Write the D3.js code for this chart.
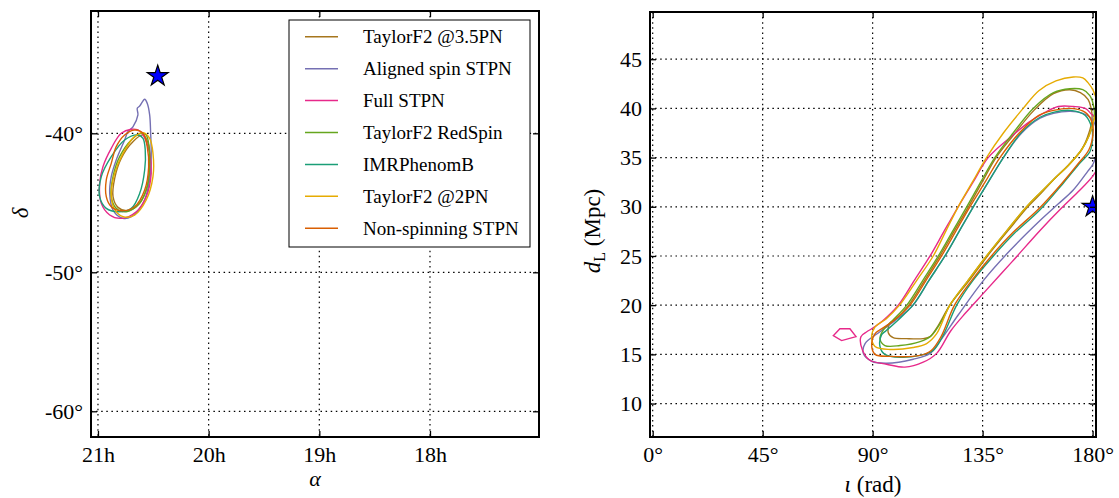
<!DOCTYPE html>
<html><head><meta charset="utf-8">
<script src="https://cdn.jsdelivr.net/npm/d3@7"></script>
<style>body{margin:0;background:#fff} svg{display:block}</style>
</head><body><svg id="c" width="1119" height="498"></svg>
<script>
// ---------------- DATA ----------------
const seriesNames = ["TaylorF2 @3.5PN","Aligned spin STPN","Full STPN","TaylorF2 RedSpin","IMRPhenomB","TaylorF2 @2PN","Non-spinning STPN"];

// Sky-location contours: [right ascension (h), declination (deg)]
const skyTaylorF2_35PN = [[20.593,-40.12],[20.684,-40.6],[20.79,-41.8],[20.849,-43.24],[20.864,-44.56],[20.819,-45.33],[20.729,-45.57],[20.623,-45.04],[20.555,-43.84],[20.53,-42.28],[20.542,-40.84]];
const skyAlignedSTPN = [[20.578,-37.55],[20.623,-38.04],[20.645,-38.2],[20.639,-38.68],[20.684,-39.53],[20.729,-39.88],[20.759,-40.48],[20.835,-41.92],[20.88,-43.12],[20.894,-44.32],[20.864,-45.52],[20.774,-46.12],[20.699,-46.0],[20.593,-45.04],[20.533,-43.36],[20.519,-41.68],[20.524,-40.0],[20.533,-38.68],[20.555,-37.84]];
const skyFullSTPN = [[20.699,-39.71],[20.79,-40.0],[20.88,-41.08],[20.955,-42.40],[20.985,-43.6],[20.97,-45.04],[20.894,-45.88],[20.79,-46.12],[20.654,-45.64],[20.564,-44.56],[20.519,-42.88],[20.533,-41.44],[20.593,-40.12],[20.639,-39.76]];
const skyRedSpin = [[20.609,-40.0],[20.699,-40.48],[20.804,-41.68],[20.864,-43.12],[20.88,-44.56],[20.835,-45.4],[20.744,-45.64],[20.639,-45.16],[20.564,-44.08],[20.533,-42.4],[20.539,-40.96],[20.564,-40.12]];
const skyIMRPhenomB = [[20.639,-40.12],[20.759,-40.48],[20.88,-41.68],[20.97,-43.12],[20.985,-44.56],[20.925,-45.4],[20.819,-45.64],[20.699,-45.4],[20.623,-44.32],[20.578,-42.64],[20.573,-41.2],[20.593,-40.36]];
const skyTaylorF2_2PN = [[20.593,-39.95],[20.669,-40.24],[20.774,-41.44],[20.849,-42.88],[20.88,-44.32],[20.855,-45.4],[20.774,-46.0],[20.669,-45.88],[20.564,-44.8],[20.503,-43.12],[20.503,-41.44],[20.533,-40.36]];
const skyNonSpinSTPN = [[20.669,-39.76],[20.759,-40.12],[20.835,-40.96],[20.88,-42.16],[20.925,-43.36],[20.925,-44.56],[20.88,-45.28],[20.79,-45.57],[20.669,-45.28],[20.578,-44.08],[20.542,-42.4],[20.555,-40.96],[20.593,-40.0]];
const skyInjection = [20.46, -35.88];

// Inclination / distance contours: [iota (deg), d_L (Mpc)]
const incTaylorF2_35PN = [[170.7,41.9],[164,41.5],[156,39.8],[148,37.4],[140.5,35],[134.8,32.5],[129.2,30],[123.3,27.5],[117.5,25],[111.2,22.5],[104.8,20],[99.5,18.6],[97.1,18.2],[96.4,17.2],[98.4,16.7],[103.9,16.6],[110.7,16.6],[113.5,16.8],[117,18],[121.6,20],[129.5,22.5],[137,25],[145.5,27.6],[153.5,30],[159,31.4],[165,33],[170,34.2],[175.5,35.8],[178.5,37.5],[179.8,39],[179.4,40],[178.2,40.9],[175,41.6]];
const incAlignedSTPN = [[171,39.7],[164,39.5],[158.5,39],[151,37.5],[143.5,35],[137.3,32.5],[131.2,30],[125.4,27.5],[119.6,25],[113,22.5],[106.5,20],[99,18.4],[93,17.3],[86.9,16.1],[86.2,15.1],[89.6,14.3],[95.7,14.1],[106.6,14.5],[113.5,15.1],[118,16.5],[125,19],[135.3,22.5],[146,25.5],[158.5,28.6],[166,30.3],[172.1,31.7],[178,33.6],[180.3,34.4],[182,36],[181.5,38],[179.5,39],[176,39.5]];
const incFullSTPN = [[172.1,40.2],[166,40.2],[160.5,39.6],[154,38.6],[147.5,37.3],[137.3,35],[131.1,32.5],[125,30],[119.2,27.5],[113.5,25],[107,22.5],[100.5,20],[94.5,18.5],[89.6,17.6],[87.6,17.3],[85.2,16.8],[85.9,15.4],[88.9,14.4],[95.7,14.0],[103.2,13.7],[110.7,14.2],[116.2,15.1],[122,17.4],[128,19.2],[135.3,21.2],[147,24.4],[158.5,27.6],[167,29.8],[174,31.5],[180.3,33.2],[183,34.5],[184,37],[182,38.8],[179.6,39.4],[177,40]];
const incFullSTPNIsland = [[73.9,16.9],[76.6,17.6],[80.7,17.6],[83.2,16.8],[77.3,16.4]];
const incRedSpin = [[170.7,42],[164,41.6],[155.7,40],[147.5,37.5],[140,35],[134.2,32.5],[128.5,30],[122.7,27.5],[116.9,25],[110.5,22.5],[104,20],[98,18.4],[94.4,17.5],[93,16.6],[95,15.9],[101.2,15.9],[109.4,16.3],[114,16.9],[118.5,18.5],[121.6,20],[129,22.5],[136.6,25],[145,27.6],[153,30],[158.5,31.4],[165,33],[170,34.2],[175.5,35.8],[178.5,37.2],[180.6,39],[180.6,40],[178.9,41.3],[176,41.9]];
const incIMRPhenomB = [[171,39.8],[163.9,39.6],[158.5,39.1],[151,37.6],[143.5,35],[137.3,32.5],[131.2,30],[125.4,27.5],[119.6,25],[113,22.5],[106.5,20],[100,18.4],[95.5,17.4],[93.7,17.0],[93,15.8],[95,15.0],[101.2,14.7],[109.4,14.9],[114.8,15.4],[119,17],[124.4,20],[131,22.5],[139.4,25],[148,27.3],[158.5,29.7],[168,32.4],[175,34.5],[178.9,35.6],[180,37],[179.6,38.1],[176.9,39.3]];
const incTaylorF2_2PN = [[172.1,43.2],[165,42.8],[158,41.8],[151.6,40],[143.5,37.5],[136.6,35],[130.8,32.5],[125,30],[119.9,27.5],[114.8,25],[108,22.5],[101,20],[95.5,18.6],[91,17.8],[89.6,16.8],[91,15.8],[97.1,15.5],[106.6,15.7],[112.1,16.1],[116.2,17.1],[121.6,20],[129,22.5],[136.6,25],[145,27.6],[153,30],[158.5,31.4],[165,33],[170,34.2],[175.5,35.8],[178.5,37.2],[180.5,38.8],[182,40.2],[180.3,41.8],[178.2,42.6],[176,43.1]];
const incNonSpinSTPN = [[171,40],[164,39.8],[158,39.3],[150,37.5],[142.1,35],[136,32.5],[129.8,30],[124,27.5],[118.2,25],[111.8,22.5],[105.3,20],[98.5,18.4],[93,17.5],[91,17.1],[89.6,16.1],[91,15.0],[97.1,14.8],[109.4,14.9],[114,15.4],[118,16.8],[123.5,20],[130.5,22.5],[138.6,25],[147.5,27.4],[158,29.8],[167.5,32.4],[174.5,34.5],[178.5,35.8],[180.2,37.5],[179.8,38.6],[177,39.6]];
const incInjection = [180, 30];

// Tick values and labels
const raTicks = [21, 20, 19, 18];
const raTickLabels = ["21h", "20h", "19h", "18h"];
const decTicks = [-40, -50, -60];
const decTickLabels = ["-40°", "-50°", "-60°"];
const iotaTicks = [0, 45, 90, 135, 180];
const iotaTickLabels = ["0°", "45°", "90°", "135°", "180°"];
const distTicks = [10, 15, 20, 25, 30, 35, 40, 45];
const distTickLabels = ["10", "15", "20", "25", "30", "35", "40", "45"];

// ---------------- STYLE ----------------
const seriesColors = ["#a6761d","#7570b3","#e7298a","#66a61e","#1b9e77","#e6ab02","#d95f02"];
const FONT = "'Liberation Serif','Times New Roman',serif";

const skySets = [skyTaylorF2_35PN, skyAlignedSTPN, skyFullSTPN, skyRedSpin, skyIMRPhenomB, skyTaylorF2_2PN, skyNonSpinSTPN];
const incSets = [incTaylorF2_35PN, incAlignedSTPN, incFullSTPN, incRedSpin, incIMRPhenomB, incTaylorF2_2PN, incNonSpinSTPN];

const svg = d3.select("#c");
const defs = svg.append("defs");

function panel(cfg) {
  const g = svg.append("g");
  const x = d3.scaleLinear().domain(cfg.xDomain).range([cfg.left, cfg.right]);
  const y = d3.scaleLinear().domain(cfg.yDomain).range([cfg.bottom, cfg.top]);
  defs.append("clipPath").attr("id", cfg.id).append("rect")
    .attr("x", cfg.left).attr("y", cfg.top)
    .attr("width", cfg.right - cfg.left).attr("height", cfg.bottom - cfg.top);

  // grid
  const grid = g.append("g").attr("stroke", "#000").attr("stroke-width", 1.2)
    .attr("stroke-dasharray", "1.5,3.6");
  grid.selectAll(".gx").data(cfg.xTicks).join("line")
    .attr("x1", d => x(d)).attr("x2", d => x(d)).attr("y1", cfg.top).attr("y2", cfg.bottom);
  grid.selectAll(".gy").data(cfg.yTicks).join("line")
    .attr("y1", d => y(d)).attr("y2", d => y(d)).attr("x1", cfg.left).attr("x2", cfg.right);

  // contours
  const plot = g.append("g").attr("clip-path", `url(#${cfg.id})`);
  const smooth = d3.line().x(d => x(d[0])).y(d => y(d[1])).curve(d3.curveCatmullRomClosed.alpha(0.5));
  const straight = d3.line().x(d => x(d[0])).y(d => y(d[1])).curve(d3.curveLinearClosed);
  cfg.extra.forEach(e => plot.append("path").attr("d", straight(e.pts)).attr("fill", "none")
    .attr("stroke", seriesColors[e.idx]).attr("stroke-width", 1.4));
  cfg.sets.forEach((pts, i) => plot.append("path").attr("d", smooth(pts)).attr("fill", "none")
    .attr("stroke", seriesColors[i]).attr("stroke-width", 1.4).attr("stroke-linejoin", "round"));

  // injection star
  plot.append("path").attr("d", d3.symbol(d3.symbolStar, 135)())
    .attr("transform", `translate(${x(cfg.star[0])},${y(cfg.star[1])})`)
    .attr("fill", "#0000ff").attr("stroke", "#000").attr("stroke-width", 1.2);

  // frame
  g.append("rect").attr("x", cfg.left).attr("y", cfg.top)
    .attr("width", cfg.right - cfg.left).attr("height", cfg.bottom - cfg.top)
    .attr("fill", "none").attr("stroke", "#000").attr("stroke-width", 2);

  function style(s) {
    s.select(".domain").remove();
    s.attr("font-family", FONT).attr("font-size", 22);
    s.selectAll("line").attr("stroke", "#000").attr("stroke-width", 1.3);
    s.selectAll("text").attr("fill", "#000");
  }
  g.append("g").attr("transform", `translate(0,${cfg.bottom})`)
    .call(d3.axisBottom(x).tickValues(cfg.xTicks).tickFormat((d, i) => cfg.xLabels[i]).tickSize(-6).tickPadding(9)).call(style);
  g.append("g").attr("transform", `translate(0,${cfg.top})`)
    .call(d3.axisTop(x).tickValues(cfg.xTicks).tickFormat("").tickSize(-6)).call(style);
  g.append("g").attr("transform", `translate(${cfg.left},0)`)
    .call(d3.axisLeft(y).tickValues(cfg.yTicks).tickFormat((d, i) => cfg.yLabels[i]).tickSize(-6).tickPadding(8)).call(style);
  g.append("g").attr("transform", `translate(${cfg.right},0)`)
    .call(d3.axisRight(y).tickValues(cfg.yTicks).tickFormat("").tickSize(-6)).call(style);
  return {x, y, g};
}

panel({
  id: "clipSky", left: 91, right: 539, top: 11, bottom: 437,
  xDomain: [21.063, 17.015], yDomain: [-61.85, -31.2],
  xTicks: raTicks, xLabels: raTickLabels, yTicks: decTicks, yLabels: decTickLabels,
  sets: skySets, extra: [], star: skyInjection
});

panel({
  id: "clipInc", left: 650, right: 1096, top: 12, bottom: 437,
  xDomain: [-1.1, 181.4], yDomain: [6.6, 49.8],
  xTicks: iotaTicks, xLabels: iotaTickLabels, yTicks: distTicks, yLabels: distTickLabels,
  sets: incSets, extra: [{idx: 2, pts: incFullSTPNIsland}], star: incInjection
});

// axis labels
const lab = svg.append("g").attr("font-family", FONT).attr("font-size", 23).attr("fill", "#000");
lab.append("text").attr("x", 315).attr("y", 486).attr("font-size", 22).attr("text-anchor", "middle").attr("font-style", "italic").text("α");
lab.append("text").attr("transform", "translate(28,213) rotate(-90)").attr("text-anchor", "middle").attr("font-style", "italic").text("δ");
const il = lab.append("text").attr("x", 873).attr("y", 492).attr("text-anchor", "middle");
il.append("tspan").attr("font-style", "italic").text("ι");
il.append("tspan").text(" (rad)");
const dl = lab.append("text").attr("transform", "translate(600,231) rotate(-90)").attr("text-anchor", "middle");
dl.append("tspan").attr("font-style", "italic").text("d");
dl.append("tspan").attr("font-size", 16).attr("dy", 5).text("L");
dl.append("tspan").attr("dy", -5).text(" (Mpc)");

// legend
const leg = svg.append("g");
leg.append("rect").attr("x", 289).attr("y", 20).attr("width", 241).attr("height", 227)
  .attr("fill", "#fff").attr("stroke", "#000").attr("stroke-width", 1);
seriesNames.forEach((name, i) => {
  const yy = 36.7 + i * 31.93;
  leg.append("line").attr("x1", 305).attr("x2", 338).attr("y1", yy).attr("y2", yy)
    .attr("stroke", seriesColors[i]).attr("stroke-width", 1.5);
  leg.append("text").attr("x", 363).attr("y", yy).attr("dy", "0.35em")
    .attr("font-family", FONT).attr("font-size", 19).attr("fill", "#000").text(name);
});
</script>
</body></html>
